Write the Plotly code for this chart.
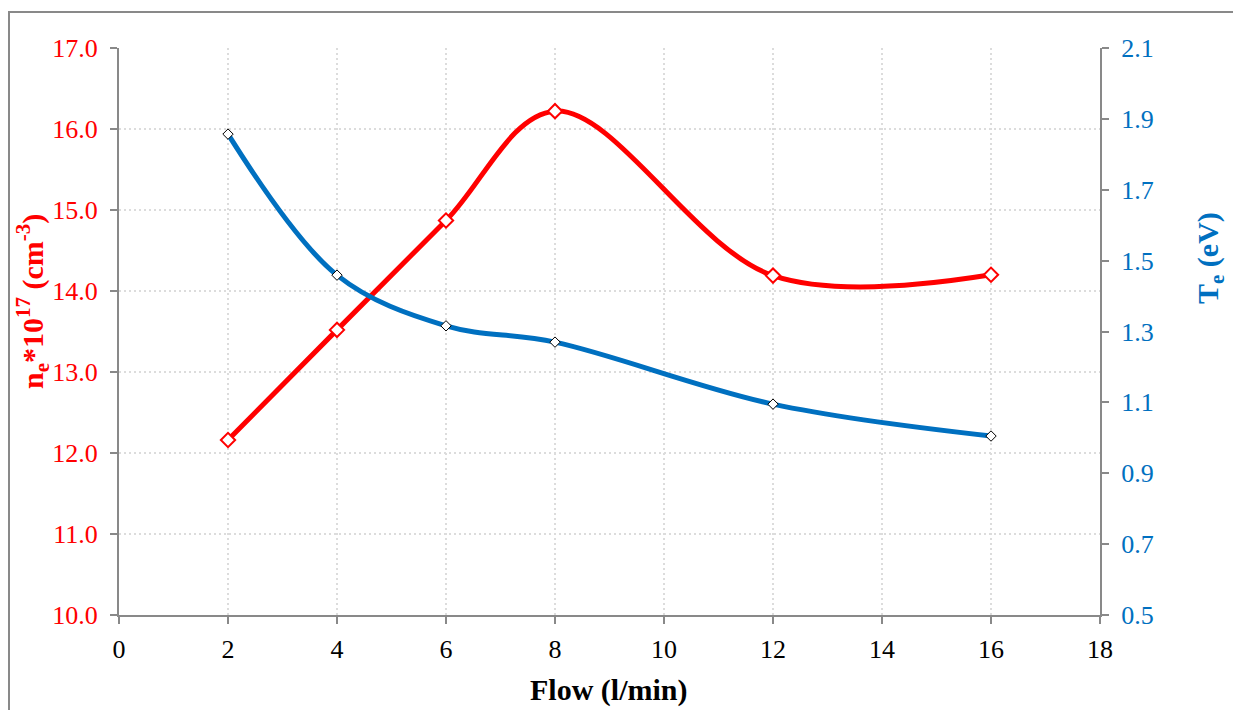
import plotly.graph_objects as go

flow = [2, 4, 6, 8, 12, 16]
ne = [12.16, 13.52, 14.87, 16.22, 14.19, 14.20]
te = [1.857, 1.459, 1.316, 1.270, 1.095, 1.005]

RED = "#FF0000"
BLUE = "#0070C0"
AX = "#898989"
FONT = "Liberation Serif"
GRID = "#DCDCDC"

# page is shown with an 8px body margin; place the plot area at screen 119..1100 x 48..615
OFF = 8
L, T, PW, PH = 119 - OFF, 48 - OFF, 981, 567
W, H = 1241 - OFF, 710 - OFF

def px(sx):  # screen x -> paper x
    return (sx - 119) / PW

def py(sy):  # screen y -> paper y
    return (615 - sy) / PH

fig = go.Figure()
fig.add_trace(go.Scatter(
    x=flow, y=ne, mode="lines+markers", yaxis="y",
    line=dict(color=RED, width=5, shape="spline", smoothing=1.0),
    marker=dict(symbol="diamond", size=11, color="white", line=dict(color=RED, width=2)),
    showlegend=False))
fig.add_trace(go.Scatter(
    x=flow, y=te, mode="lines+markers", yaxis="y2",
    line=dict(color=BLUE, width=5, shape="spline", smoothing=1.0),
    marker=dict(symbol="diamond", size=8, color="white", line=dict(color="black", width=1)),
    showlegend=False))

fig.update_layout(
    width=W, height=H,
    margin=dict(l=L, r=W - L - PW, t=T, b=H - T - PH),
    paper_bgcolor="white", plot_bgcolor="white",
    font=dict(family=FONT, size=26, color="black"),
    xaxis=dict(range=[0, 18], dtick=2, tick0=0, showline=True, linecolor=AX, linewidth=2,
               ticks="outside", ticklen=7, tickcolor=AX, tickwidth=2,
               showgrid=True, gridcolor=GRID, griddash="2px,3px", gridwidth=1.5,
               zeroline=False, ticklabelstandoff=3,
               tickfont=dict(family=FONT, size=26, color="black")),
    yaxis=dict(range=[10, 17], dtick=1, tick0=10, tickformat=".1f",
               showline=True, linecolor=AX, linewidth=2,
               ticks="outside", ticklen=7, tickcolor=AX, tickwidth=2,
               showgrid=True, gridcolor=GRID, griddash="2px,3px", gridwidth=1.5,
               zeroline=False, ticklabelstandoff=7,
               tickfont=dict(family=FONT, size=26, color=RED)),
    yaxis2=dict(range=[0.5, 2.1], dtick=0.2, tick0=0.5, tickformat=".1f",
                overlaying="y", side="right",
                showline=True, linecolor=AX, linewidth=2,
                ticks="outside", ticklen=7, tickcolor=AX, tickwidth=2,
                showgrid=False, zeroline=False, ticklabelstandoff=7,
                tickfont=dict(family=FONT, size=26, color=BLUE)),
    annotations=[
        dict(text="<b>Flow (l/min)</b>", xref="paper", yref="paper", x=px(609), y=py(690),
             showarrow=False, font=dict(family=FONT, size=30, color="black"),
             xanchor="center", yanchor="middle"),
        dict(text="<b>n<sub>e</sub>*10<sup>17</sup> (cm<sup>-3</sup>)</b>", xref="paper", yref="paper",
             x=px(32), y=py(302), textangle=-90, showarrow=False,
             font=dict(family=FONT, size=30, color=RED), xanchor="center", yanchor="middle"),
        dict(text="<b>T<sub>e</sub> (eV)</b>", xref="paper", yref="paper",
             x=px(1210), y=py(258), textangle=-90, showarrow=False,
             font=dict(family=FONT, size=30, color=BLUE), xanchor="center", yanchor="middle"),
    ],
    shapes=[
        dict(type="rect", xref="paper", yref="paper",
             x0=px(9), x1=px(1300), y0=py(800), y1=py(12),
             line=dict(color=AX, width=2), layer="below"),
    ],
)

fig.write_html("out.html")
